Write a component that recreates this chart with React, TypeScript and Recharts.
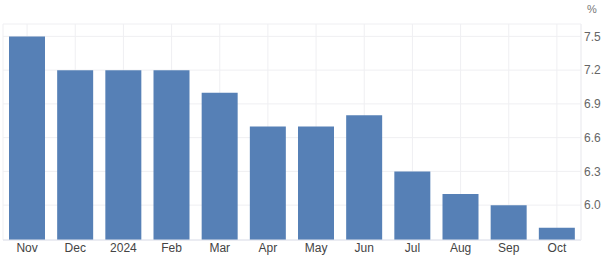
import { BarChart, Bar, XAxis, YAxis, CartesianGrid } from 'recharts';

const months = ['Nov', 'Dec', '2024', 'Feb', 'Mar', 'Apr', 'May', 'Jun', 'Jul', 'Aug', 'Sep', 'Oct'];
const rates = [7.5, 7.2, 7.2, 7.2, 7.0, 6.7, 6.7, 6.8, 6.3, 6.1, 6.0, 5.8];
const yTicks = [6.0, 6.3, 6.6, 6.9, 7.2, 7.5];

const data = months.map((m, i) => ({ name: m, value: rates[i] }));

const font = 'Arial, "Liberation Sans", sans-serif';

export default function App() {
  return (
    <div style={{ position: 'absolute', left: 0, top: 0, width: 604, height: 261, background: '#fff' }}>
      <span style={{ position: 'absolute', left: 587, top: 3, fontFamily: font, fontSize: 11, color: '#777' }}>%</span>
      <BarChart width={604} height={261} data={data} margin={{ top: 24, right: 1, left: 3, bottom: 0 }}>
        <CartesianGrid stroke="#efeff2" />
        <XAxis
          dataKey="name"
          height={21}
          tickSize={0}
          tickMargin={3}
          axisLine={{ stroke: '#dfe2ec' }}
          tick={{ fill: '#444', fontSize: 12, fontFamily: font }}
          interval={0}
        />
        <XAxis xAxisId="top" orientation="top" dataKey="name" height={0} tick={false} tickLine={false} axisLine={{ stroke: '#efeff2' }} />
        <YAxis
          orientation="right"
          width={22}
          domain={[5.69, 7.61]}
          ticks={yTicks}
          tickFormatter={(v: number) => v.toFixed(1)}
          tickSize={0}
          tickMargin={3}
          axisLine={{ stroke: '#efeff2' }}
          tick={{ fill: '#666', fontSize: 12, fontFamily: font }}
        />
        <YAxis yAxisId="left" orientation="left" width={0} tick={false} tickLine={false} axisLine={{ stroke: '#efeff2' }} />
        <Bar dataKey="value" fill="#5680b6" barSize={36} isAnimationActive={false} />
      </BarChart>
    </div>
  );
}
